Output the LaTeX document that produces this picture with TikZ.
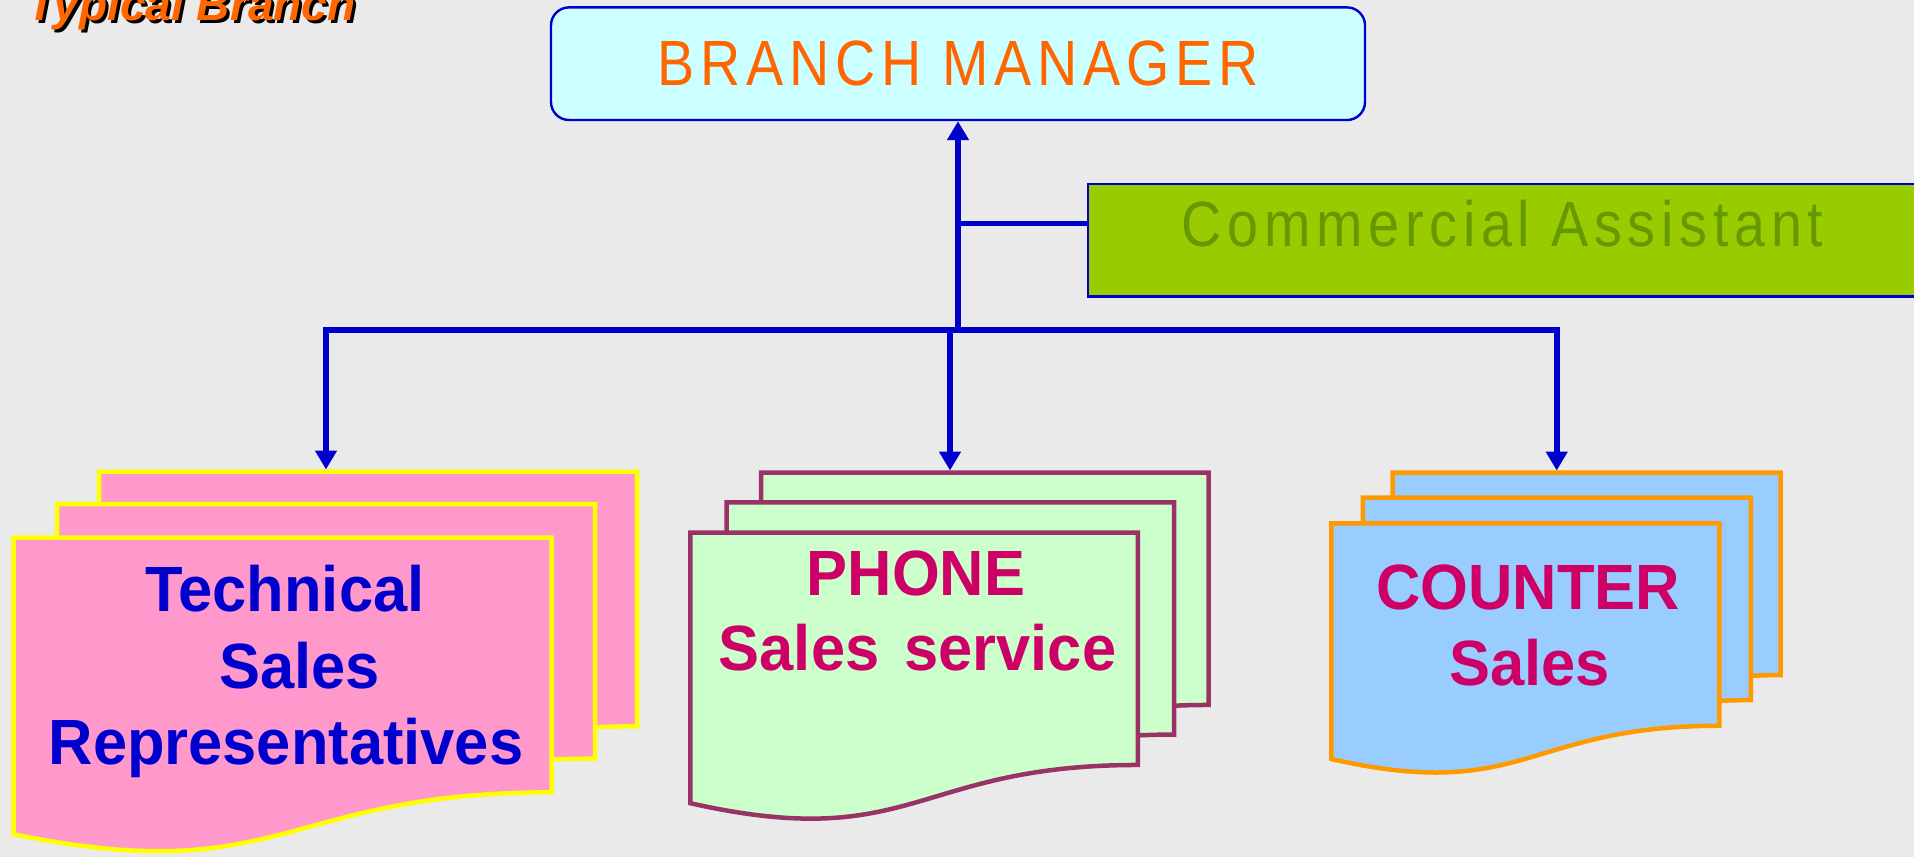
\documentclass[tikz,border=0pt]{standalone}
\usepackage{fontspec}
\setmainfont{Liberation Sans}
\newfontfamily\lightfont{Liberation Sans}[FakeStretch=0.87,LetterSpace=9]
\newfontfamily\docfont{Liberation Sans}[FakeStretch=0.96]
\newfontfamily\titlefont{Liberation Sans}
\usetikzlibrary{arrows.meta}
\definecolor{bgc}{HTML}{EAEAEA}
\definecolor{linkblue}{HTML}{0000CC}
\definecolor{bmfill}{HTML}{CCFFFF}
\definecolor{bmtext}{HTML}{FF6600}
\definecolor{cafill}{HTML}{99CC00}
\definecolor{catext}{HTML}{669900}
\definecolor{pinkfill}{HTML}{FF99CC}
\definecolor{yellowline}{HTML}{FFFF00}
\definecolor{greenfill}{HTML}{CCFFCC}
\definecolor{maroonline}{HTML}{993366}
\definecolor{bluefill}{HTML}{99CCFF}
\definecolor{orangeline}{HTML}{FF9900}
\definecolor{magtext}{HTML}{CC0066}
\newcommand{\docpg}[6]{%
  \filldraw[docline, fill=#5, draw=#6] (#1,#2) -- (#1+#3,#2) -- (#1+#3,#2+0.802*#4)
    .. controls (#1+0.5*#3,#2+0.802*#4) and (#1+0.5*#3,#2+1.1075*#4) .. (#1,#2+0.934*#4) -- cycle;}
\begin{document}
\begin{tikzpicture}[x=0.5pt,y=-0.5pt,
  conn/.style={draw=linkblue, line width=3pt},
  tip/.style={-{Triangle[width=10.5pt,length=9.5pt]}},
  docline/.style={line width=2.25pt, line join=miter},
  bmbox/.style={draw=linkblue, fill=bmfill, line width=1.2pt, rounded corners=9pt,
    minimum width=407pt, minimum height=56.3pt, inner sep=0pt,
    font=\lightfont\fontsize{32}{38}\selectfont, text=bmtext},
  cabox/.style={draw=linkblue, fill=cafill, line width=1.3pt,
    minimum width=414.5pt, minimum height=56.3pt, inner sep=0pt},
  catxt/.style={inner sep=0pt, font=\lightfont\fontsize{32}{38}\selectfont, text=catext},
  doctext/.style={anchor=base, inner sep=0pt, font=\docfont\bfseries\fontsize{32}{38}\selectfont},
  titletext/.style={anchor=base west, inner sep=0pt, font=\titlefont\bfseries\itshape\fontsize{23}{28}\selectfont}
]
\fill[bgc] (0,0) rectangle (1914,857);
\useasboundingbox (0,0) rectangle (1914,857);

% title
\node[titletext, text=black] (titleshadow) at (30,23.5) {Typical Branch};
\node[titletext, text=bmtext] (title) at (27,20.5) {Typical Branch};

% top boxes
\node[bmbox] (bm) at (958,63.7) {BRANCH MANAGER};
\node[cabox] (ca) at (1502.5,240.3) {};
\node[catxt] (catext) at (1502.5,223.4) {Commercial Assistant};

% document stacks
\docpg{99}{471.7}{538}{317.5}{pinkfill}{yellowline}
\docpg{57.2}{504}{538}{317.5}{pinkfill}{yellowline}
\docpg{13.7}{537.7}{538}{317.5}{pinkfill}{yellowline}

\docpg{761}{472.7}{447.5}{289.6}{greenfill}{maroonline}
\docpg{726.5}{502.3}{447.5}{289.6}{greenfill}{maroonline}
\docpg{690.3}{532.7}{447.5}{289.6}{greenfill}{maroonline}

\docpg{1392.7}{472.7}{388}{252.4}{bluefill}{orangeline}
\docpg{1362.8}{497.7}{388}{252.4}{bluefill}{orangeline}
\docpg{1331.4}{523.3}{388}{252.4}{bluefill}{orangeline}

% texts
\node[doctext, text=linkblue] (tsr1) at (285,611.7) {Technical};
\node[doctext, text=linkblue] (tsr2) at (299.5,688.3) {Sales};
\node[doctext, text=linkblue] (tsr3) at (286,764) {Representatives};
\node[doctext, text=magtext] (ph1) at (916,595) {PHONE};
\node[doctext, text=magtext] (ph2) at (917.5,670.7) {Sales\hspace{4pt} service};
\node[doctext, text=magtext] (ct1) at (1528,609) {COUNTER};
\node[doctext, text=magtext] (ct2) at (1529.5,685) {Sales};

% connectors
\coordinate (busL) at (326,329.6);
\coordinate (busR) at (1556.7,329.6);
\coordinate (busC) at (958,329.6);
\coordinate (busM) at (950,329.6);
\coordinate (tsrtop) at (326,469.5);
\coordinate (phtop) at (950,470.5);
\coordinate (cttop) at (1556.7,470.5);
\draw[conn, {Triangle[width=10.5pt,length=9.5pt]}-{Triangle[width=10.5pt,length=9.5pt]}]
  (tsrtop) -- (busL) -- (busR) -- (cttop);
\draw[conn, tip] (busM) -- (phtop);
\draw[conn, tip] (busC) -- (bm.south);
\draw[conn, line width=2.6pt] (catext -| bm.south) -- (catext -| ca.west);
\end{tikzpicture}
\end{document}
